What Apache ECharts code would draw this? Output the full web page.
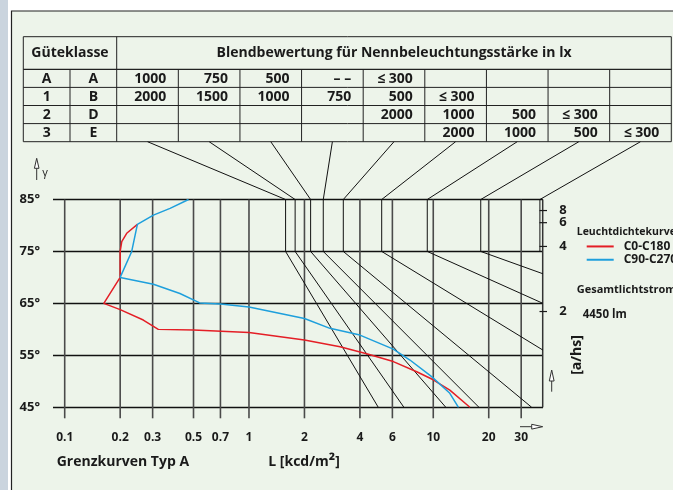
<!DOCTYPE html>
<html><head><meta charset="utf-8">
<script src="https://cdn.jsdelivr.net/npm/echarts@6/dist/echarts.min.js"></script>
<style>html,body{margin:0;padding:0;background:#fff}#c{width:673px;height:490px}</style>
</head><body><div id="c"></div>
<script>
// ---------------- data ----------------
const gammaTicks = [45, 55, 65, 75, 85];                       // y axis (degrees)
const lTickValues = [0.1, 0.2, 0.3, 0.5, 0.7, 1, 2, 4, 6, 10, 20, 30]; // x axis labels / grid lines (kcd/m²)
const ahsTicks = [2, 4, 6, 8];                                  // a/hs scale on the right

// luminance limit curve C0-C180 (L in kcd/m², gamma in degrees)
const redL = [0.248, 0.217, 0.204, 0.2, 0.2, 0.163, 0.2, 0.267, 0.322, 0.5, 1.0, 2.0, 3.12, 4.35, 6.07, 8.13, 10.0, 12.3, 15.8];
const redG = [80.2, 78.5, 76.9, 75.0, 70.0, 65.0, 63.8, 61.8, 60.0, 59.9, 59.4, 57.95, 56.66, 55.3, 53.8, 51.85, 50.3, 48.3, 45.0];
// luminance curve C90-C270
const blueL = [0.47, 0.373, 0.303, 0.248, 0.231, 0.2, 0.303, 0.422, 0.54, 0.7, 1.0, 2.0, 2.75, 4.0, 6.07, 7.47, 9.8, 12.3, 13.7];
const blueG = [85.0, 83.3, 82.0, 80.2, 75.0, 70.0, 68.7, 66.9, 65.1, 64.9, 64.3, 62.1, 60.2, 58.9, 56.2, 54.1, 50.9, 47.7, 45.0];

// Grenzkurven (limit lines): L of the vertical part between 85° and 75°, and end point of the lower slanted part
const limitL    = [1.58, 1.78, 2.16, 2.53, 3.25, 5.25, 9.28, 18.1, 37.9];
const limitEndL = [5.03, 6.93, 11.7, 17.7, 34.2, 39.4, 39.4, 39.4, 37.9];
const limitEndG = [45, 45, 45, 45, 45, 56.0, 65.0, 70.7, 75];

// table
const tableHeader = ['Güteklasse', 'Blendbewertung für Nennbeleuchtungsstärke in lx'];
const classCol1 = ['A', '1', '2', '3'];
const classCol2 = ['A', 'B', 'D', 'E'];
const luxRowA = ['1000', '750', '500', '– –', '≤ 300', '', '', '', ''];
const luxRow1 = ['2000', '1500', '1000', '750', '500', '≤ 300', '', '', ''];
const luxRow2 = ['', '', '', '', '2000', '1000', '500', '≤ 300', ''];
const luxRow3 = ['', '', '', '', '', '2000', '1000', '500', '≤ 300'];
const luxRows = [luxRowA, luxRow1, luxRow2, luxRow3];

const seriesNames = ['C0-C180', 'C90-C270'];
const legendTitle = 'Leuchtdichtekurven';
const fluxTitle = 'Gesamtlichtstrom';
const fluxValue = '4450 lm';
const xTitle = 'Grenzkurven Typ A';
const yRightTitle = '[a/hs]';

// ---------------- layout ----------------
const L_MIN = 0.0864, L_MAX = 39.4;
const FONT = '"Open Sans", "Noto Sans", sans-serif';
const INK = '#1a1a1a';
const RED = '#E41E26', BLUE = '#1E9FDC';
const TB = {left: 23.3, right: 671.3, top: 36.7, headBottom: 69.3, bottom: 141.7, c1: 70, c2: 116.7};
const rowH = (TB.bottom - TB.headBottom) / 4;
const colW = (TB.right - TB.c2) / 9;
const colCenter = i => TB.c2 + colW * (i + 0.5);

function tableElements() {
  const els = [];
  const ln = (x1, y1, x2, y2, w) => els.push({type: 'line', z: 10, shape: {x1, y1, x2, y2}, style: {stroke: '#222', lineWidth: w || 1}});
  els.push({type: 'rect', z: 10, shape: {x: TB.left, y: TB.top, width: TB.right - TB.left, height: TB.bottom - TB.top}, style: {fill: null, stroke: '#222', lineWidth: 1}});
  ln(TB.left, TB.headBottom, TB.right, TB.headBottom, 1.2);
  for (let r = 1; r < 4; r++) ln(TB.left, TB.headBottom + r * rowH, TB.right, TB.headBottom + r * rowH);
  ln(TB.c2, TB.top, TB.c2, TB.bottom);
  ln(TB.c1, TB.headBottom, TB.c1, TB.bottom);
  for (let c = 1; c < 9; c++) ln(TB.c2 + c * colW, TB.headBottom, TB.c2 + c * colW, TB.bottom);
  const txt = (text, x, y, align, size) => els.push({type: 'text', z: 11, x, y, style: {text, align, verticalAlign: 'middle', font: 'bold ' + (size || 13) + 'px ' + FONT, fill: INK}});
  const hy = (TB.top + TB.headBottom) / 2 + 0.5;
  txt(tableHeader[0], (TB.left + TB.c2) / 2, hy, 'center', 14);
  txt(tableHeader[1], (TB.c2 + TB.right) / 2, hy, 'center', 14);
  for (let r = 0; r < 4; r++) {
    const y = TB.headBottom + (r + 0.5) * rowH + 0.5;
    txt(classCol1[r], (TB.left + TB.c1) / 2, y, 'center', 14);
    txt(classCol2[r], (TB.c1 + TB.c2) / 2, y, 'center', 14);
    luxRows[r].forEach((v, c) => { if (v) txt(v, TB.c2 + (c + 1) * colW - 12, y, 'right', 14); });
  }
  return els;
}

function arrow(x1, y1, x2, y2, headLen, headW) {
  const dx = x2 - x1, dy = y2 - y1, len = Math.hypot(dx, dy), ux = dx / len, uy = dy / len;
  const bx = x2 - ux * headLen, by = y2 - uy * headLen;
  return [
    {type: 'line', z: 12, shape: {x1, y1, x2: bx, y2: by}, style: {stroke: '#333', lineWidth: 1}},
    {type: 'polygon', z: 12, shape: {points: [[x2, y2], [bx - uy * headW, by + ux * headW], [bx + uy * headW, by - ux * headW]]}, style: {fill: '#fff', stroke: '#333', lineWidth: 1}}
  ];
}

const chart = echarts.init(document.getElementById('c'), null, {renderer: 'canvas'});

const option = {
  backgroundColor: '#ffffff',
  animation: false,
  grid: {left: 53, right: 130, top: 199.5, bottom: 82.7},
  xAxis: {
    type: 'log', logBase: 10, min: L_MIN, max: L_MAX,
    axisLine: {show: false}, axisTick: {show: false}, splitLine: {show: false},
    axisLabel: {customValues: lTickValues, formatter: v => String(v), margin: 24, fontSize: 12, fontWeight: 'bold', fontFamily: FONT, color: INK}
  },
  yAxis: {
    type: 'value', min: gammaTicks[0], max: gammaTicks[gammaTicks.length - 1], interval: 10,
    axisLine: {show: false}, axisTick: {show: false},
    splitLine: {lineStyle: {color: '#111', width: 1.3}},
    axisLabel: {formatter: '{value}°', margin: 13, fontSize: 13, fontWeight: 'bold', fontFamily: FONT, color: INK}
  },
  legend: {
    data: seriesNames, orient: 'vertical', left: 581.7, top: 234.8, itemGap: 0,
    itemWidth: 27, itemHeight: 2, icon: 'rect', selectedMode: false,
    textStyle: {fontSize: 12, fontWeight: 'bold', fontFamily: FONT, color: INK, lineHeight: 13.3, padding: [0, 0, 0, 5]}
  },
  graphic: {elements: [
    {type: 'rect', z: -10, shape: {x: 11.5, y: 11, width: 700, height: 500}, style: {fill: '#EDF4EA', stroke: '#222', lineWidth: 1.2}},
    {type: 'rect', z: -10, shape: {x: 0, y: 0, width: 8, height: 490}, style: {fill: '#CAD4DE'}},
    ...tableElements(),
    {type: 'text', z: 12, x: 56.7, y: 462, style: {text: xTitle, align: 'left', verticalAlign: 'middle', font: 'bold 14px ' + FONT, fill: INK}},
    {type: 'text', z: 12, x: 268.3, y: 462, style: {text: '{a|L [kcd/m}{s|²}{a|]}', align: 'left', verticalAlign: 'middle', fill: INK,
      rich: {a: {font: 'bold 14px ' + FONT, fill: INK}, s: {font: 'bold 17px ' + FONT, fill: INK}}}},
    {type: 'text', z: 12, x: 577.3, y: 355, rotation: Math.PI / 2, style: {text: yRightTitle, align: 'center', verticalAlign: 'middle', font: 'bold 14px ' + FONT, fill: INK}},
    {type: 'text', z: 12, x: 576.7, y: 231.7, style: {text: legendTitle, align: 'left', verticalAlign: 'middle', font: 'bold 10.5px ' + FONT, fill: INK}},
    {type: 'text', z: 12, x: 576.7, y: 290, style: {text: fluxTitle, align: 'left', verticalAlign: 'middle', font: 'bold 11px ' + FONT, fill: INK}},
    {type: 'text', z: 12, x: 582.7, y: 315, style: {text: fluxValue, align: 'left', verticalAlign: 'middle', font: 'bold 11.5px ' + FONT, fill: INK}},
    {type: 'text', z: 12, x: 45, y: 173, style: {text: 'γ', align: 'center', verticalAlign: 'middle', font: '11px ' + FONT, fill: INK}},
    ...arrow(36.7, 180, 36.7, 158.3, 10, 2.3),
    ...arrow(520, 426.7, 542.7, 426.7, 11, 2.4),
    ...arrow(551.7, 391.7, 551.7, 370, 11, 2.4)
  ]},
  series: [
    { // vertical grid lines at the labelled luminance values
      type: 'custom', silent: true, z: 1,
      data: lTickValues.map(v => [v, gammaTicks[gammaTicks.length - 1]]),
      encode: {x: 0, y: 1},
      renderItem: (p, api) => {
        const v = api.value(0);
        const a = api.coord([v, 85]), b = api.coord([v, 45]);
        return {type: 'line', shape: {x1: a[0], y1: a[1], x2: b[0], y2: b[1] + 11}, style: {stroke: '#4a4a4a', lineWidth: 1.6}};
      }
    },
    { // right border of the diagram
      type: 'custom', silent: true, z: 1,
      data: [[L_MAX, 85]], encode: {x: 0, y: 1},
      renderItem: (p, api) => {
        const a = api.coord([L_MAX, 85]), b = api.coord([L_MAX, 45]);
        return {type: 'line', shape: {x1: a[0] - 0.3, y1: a[1], x2: b[0] - 0.3, y2: b[1]}, style: {stroke: '#333', lineWidth: 1.5}};
      }
    },
    { // limit lines (Grenzkurven) incl. connectors to the table
      type: 'custom', silent: true, z: 3,
      data: limitL.map((v, i) => [v, 85, limitEndL[i], limitEndG[i], i]),
      encode: {x: 0, y: 1},
      renderItem: (p, api) => {
        const L = api.value(0), i = api.value(4);
        const top = [colCenter(i), TB.bottom];
        const a = api.coord([L, 85]), b = api.coord([L, 75]), c = api.coord([api.value(2), api.value(3)]);
        return {type: 'polyline', shape: {points: [top, a, b, c]}, style: {stroke: '#111', lineWidth: 1, fill: null}};
      }
    },
    { // a/hs scale: tan(gamma) = a/hs
      type: 'custom', silent: true, z: 3,
      data: ahsTicks.map(v => [L_MAX, Math.atan(v) * 180 / Math.PI, v]),
      encode: {x: 0, y: 1},
      renderItem: (p, api) => {
        const q = api.coord([api.value(0), api.value(1)]);
        return {type: 'group', children: [
          {type: 'line', shape: {x1: q[0] - 3.5, y1: q[1], x2: q[0] + 4, y2: q[1]}, style: {stroke: INK, lineWidth: 1.2}},
          {type: 'text', x: q[0] + 20, y: q[1], style: {text: String(api.value(2)), align: 'center', verticalAlign: 'middle', font: 'bold 13px ' + FONT, fill: INK}}
        ]};
      }
    },
    {type: 'line', name: seriesNames[0], data: redL.map((l, i) => [l, redG[i]]), symbol: 'none', z: 5,
      lineStyle: {color: RED, width: 1.5}, itemStyle: {color: RED}},
    {type: 'line', name: seriesNames[1], data: blueL.map((l, i) => [l, blueG[i]]), symbol: 'none', z: 5,
      lineStyle: {color: BLUE, width: 1.5}, itemStyle: {color: BLUE}}
  ]
};
chart.setOption(option);
</script></body></html>
